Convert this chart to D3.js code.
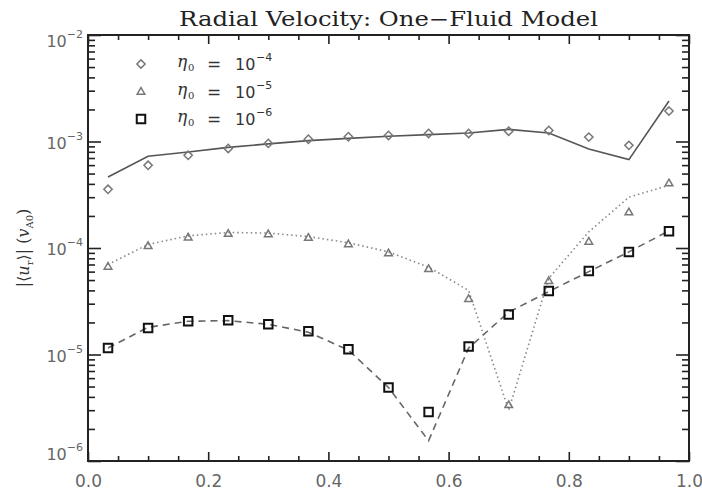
<!DOCTYPE html>
<html>
<head>
<meta charset="utf-8">
<script src="https://cdn.jsdelivr.net/npm/d3@7"></script>
<style>
  body { margin: 0; background: #fff; }
  svg { display: block; }
</style>
</head>
<body>
<div id="chart"></div>
<script>
// radial positions of the samples
const xs = [0.0333, 0.1, 0.1667, 0.2333, 0.3, 0.3667, 0.4333, 0.5, 0.5667, 0.6333, 0.7, 0.7667, 0.8333, 0.9, 0.9667]

// eta0 = 1e-4 : symbols and model line
const ptsE4 = [3.56e-4, 5.98e-4, 7.42e-4, 8.6e-4, 9.6e-4, 1.05e-3, 1.11e-3, 1.14e-3, 1.19e-3, 1.19e-3, 1.25e-3, 1.27e-3, 1.1e-3, 9.2e-4, 1.93e-3]
const lineE4 = [4.64e-4, 7.26e-4, 7.96e-4, 8.8e-4, 9.5e-4, 1.02e-3, 1.07e-3, 1.12e-3, 1.16e-3, 1.2e-3, 1.3e-3, 1.2e-3, 8.5e-4, 6.76e-4, 2.4e-3]

// eta0 = 1e-5
const ptsE5 = [6.64e-5, 1.04e-4, 1.25e-4, 1.35e-4, 1.34e-4, 1.24e-4, 1.08e-4, 8.86e-5, 6.3e-5, 3.3e-5, 3.33e-6, 4.87e-5, 1.14e-4, 2.15e-4, 4.02e-4]
const lineE5 = [7.0e-5, 1.08e-4, 1.3e-4, 1.4e-4, 1.38e-4, 1.28e-4, 1.12e-4, 9.2e-5, 6.6e-5, 4.0e-5, 3.0e-6, 5.2e-5, 1.42e-4, 3.0e-4, 3.88e-4]

// eta0 = 1e-6
const ptsE6 = [1.15e-5, 1.77e-5, 2.05e-5, 2.1e-5, 1.92e-5, 1.65e-5, 1.12e-5, 4.89e-6, 2.88e-6, 1.19e-5, 2.38e-5, 3.95e-5, 6.08e-5, 9.17e-5, 1.44e-4]
const lineE6 = [1.15e-5, 1.8e-5, 2.05e-5, 2.08e-5, 1.92e-5, 1.62e-5, 1.1e-5, 4.9e-6, 1.55e-6, 1.15e-5, 2.5e-5, 3.9e-5, 6.0e-5, 9.2e-5, 1.45e-4]

const xTickLabels = ["0.0", "0.2", "0.4", "0.6", "0.8", "1.0"]
const yDecades = [-2, -3, -4, -5, -6]
const legendLabels = ["\u22124", "\u22125", "\u22126"]

const width = 702, height = 497
const mLeft = 88, mRight = 689, mTop = 35, mBottom = 461

const svg = d3.select("#chart").append("svg")
  .attr("width", width)
  .attr("height", height)

const x = d3.scaleLinear().domain([0, 1]).range([mLeft, mRight])
const y = d3.scaleLog().domain([1e-6, 1e-2]).range([mBottom, mTop])

const axisColor = "#222"
const labelColor = "#666"
const font = "'DejaVu Sans', sans-serif"
const serif = "'DejaVu Serif', serif"

// title
svg.append("text")
  .attr("x", (mLeft + mRight) / 2)
  .attr("y", 26)
  .attr("text-anchor", "middle")
  .attr("font-family", serif)
  .attr("font-size", 20)
  .attr("fill", "#222")
  .attr("textLength", 419)
  .attr("lengthAdjust", "spacingAndGlyphs")
  .text("Radial Velocity: One\u2212Fluid Model")

// ticks
const majorX = xTickLabels.map(Number)
const minorX = d3.range(0, 1.0001, 0.05).filter(v => !majorX.some(m => Math.abs(m - v) < 1e-6))
const majorY = yDecades.map(d => Math.pow(10, d))
const minorY = y.ticks().filter(v => !majorY.some(m => Math.abs(Math.log10(m) - Math.log10(v)) < 1e-6))

const styleAxis = g => {
  g.select(".domain").remove()
  g.selectAll("line").attr("stroke", axisColor).attr("stroke-width", 1.6)
}

svg.append("g").attr("transform", `translate(0,${mBottom})`)
  .call(d3.axisBottom(x).tickValues(minorX).tickSize(-5).tickFormat(""))
  .call(styleAxis)
svg.append("g").attr("transform", `translate(0,${mBottom})`)
  .call(d3.axisBottom(x).tickValues(majorX).tickSize(-9).tickPadding(14).tickFormat((d, i) => xTickLabels[i]))
  .call(styleAxis)
  .call(g => g.selectAll("text").attr("font-family", font).attr("font-size", 17).attr("fill", labelColor))
svg.append("g").attr("transform", `translate(0,${mTop})`)
  .call(d3.axisTop(x).tickValues(minorX).tickSize(-5).tickFormat(""))
  .call(styleAxis)
svg.append("g").attr("transform", `translate(0,${mTop})`)
  .call(d3.axisTop(x).tickValues(majorX).tickSize(-9).tickFormat(""))
  .call(styleAxis)

svg.append("g").attr("transform", `translate(${mLeft},0)`)
  .call(d3.axisLeft(y).tickValues(minorY).tickSize(-7).tickFormat(""))
  .call(styleAxis)
svg.append("g").attr("transform", `translate(${mLeft},0)`)
  .call(d3.axisLeft(y).tickValues(majorY).tickSize(-13).tickFormat(""))
  .call(styleAxis)
svg.append("g").attr("transform", `translate(${mRight},0)`)
  .call(d3.axisRight(y).tickValues(minorY).tickSize(-7).tickFormat(""))
  .call(styleAxis)
svg.append("g").attr("transform", `translate(${mRight},0)`)
  .call(d3.axisRight(y).tickValues(majorY).tickSize(-13).tickFormat(""))
  .call(styleAxis)

// frame
svg.append("rect")
  .attr("x", mLeft).attr("y", mTop)
  .attr("width", mRight - mLeft).attr("height", mBottom - mTop)
  .attr("fill", "none")
  .attr("stroke", axisColor)
  .attr("stroke-width", 2)

// y tick labels 10^k
yDecades.forEach(d => {
  const ty = Math.min(Math.max(y(Math.pow(10, d)) + 7, 47), 460)
  const t = svg.append("text")
    .attr("x", 83).attr("y", ty)
    .attr("text-anchor", "end")
    .attr("font-family", font)
    .attr("font-size", 16)
    .attr("fill", labelColor)
  t.append("tspan").text("10")
  t.append("tspan").attr("dy", -9).attr("font-size", 11).text("\u2212" + (-d))
})

// y axis title
const yt = svg.append("text")
  .attr("transform", "translate(29,248) rotate(-90)")
  .attr("text-anchor", "middle")
  .attr("font-family", serif)
  .attr("font-size", 16)
  .attr("fill", "#333")
yt.append("tspan").text("|\u27e8")
yt.append("tspan").attr("font-style", "italic").text("u")
yt.append("tspan").attr("dy", 4).attr("font-size", 10).text("r")
yt.append("tspan").attr("dy", -4).text("\u27e9| (")
yt.append("tspan").attr("font-style", "italic").text("v")
yt.append("tspan").attr("dy", 4).attr("font-size", 10).text("A0")
yt.append("tspan").attr("dy", -4).text(")")

// model lines
const line = d3.line().x((d, i) => x(xs[i])).y(d => y(d))

svg.append("path").datum(lineE4)
  .attr("d", line).attr("fill", "none")
  .attr("stroke", "#555").attr("stroke-width", 1.6)
svg.append("path").datum(lineE5)
  .attr("d", line).attr("fill", "none")
  .attr("stroke", "#888").attr("stroke-width", 1.6)
  .attr("stroke-dasharray", "1.5,3")
svg.append("path").datum(lineE6)
  .attr("d", line).attr("fill", "none")
  .attr("stroke", "#666").attr("stroke-width", 1.6)
  .attr("stroke-dasharray", "7,5")

// symbols
const diamond = d3.symbol().type(d3.symbolDiamond2).size(44)
const triangle = d3.symbol().type(d3.symbolTriangle2).size(42)
const square = d3.symbol().type(d3.symbolSquare2).size(92)

const drawPts = (vals, sym, color, sw) => {
  svg.append("g").selectAll("path").data(vals).join("path")
    .attr("transform", (d, i) => `translate(${x(xs[i])},${y(d)})`)
    .attr("d", sym)
    .attr("fill", "none")
    .attr("stroke", color)
    .attr("stroke-width", sw)
}
drawPts(ptsE4, diamond, "#777", 1.5)
drawPts(ptsE5, triangle, "#777", 1.5)
drawPts(ptsE6, square, "#111", 2)

// legend
const legendSyms = [[diamond, "#777", 1.5], [triangle, "#777", 1.5], [square, "#111", 2]]
const legendY = [64, 92, 119]
legendLabels.forEach((lab, i) => {
  const ly = legendY[i]
  svg.append("path")
    .attr("transform", `translate(141,${ly})`)
    .attr("d", legendSyms[i][0])
    .attr("fill", "none")
    .attr("stroke", legendSyms[i][1])
    .attr("stroke-width", legendSyms[i][2])
  const g = svg.append("g").attr("fill", "#333")
  g.append("text").attr("x", 177).attr("y", ly + 3)
    .attr("font-family", serif).attr("font-style", "italic").attr("font-size", 17)
    .text("\u03b7")
  g.append("text").attr("x", 188).attr("y", ly + 7)
    .attr("font-family", serif).attr("font-size", 10)
    .text("0")
  g.append("text").attr("x", 214).attr("y", ly + 6)
    .attr("text-anchor", "middle")
    .attr("font-family", font).attr("font-size", 17)
    .text("=")
  g.append("text").attr("x", 235).attr("y", ly + 6)
    .attr("font-family", font).attr("font-size", 16)
    .text("10")
  g.append("text").attr("x", 256).attr("y", ly - 3)
    .attr("font-family", font).attr("font-size", 11)
    .text(lab)
})
</script>
</body>
</html>
